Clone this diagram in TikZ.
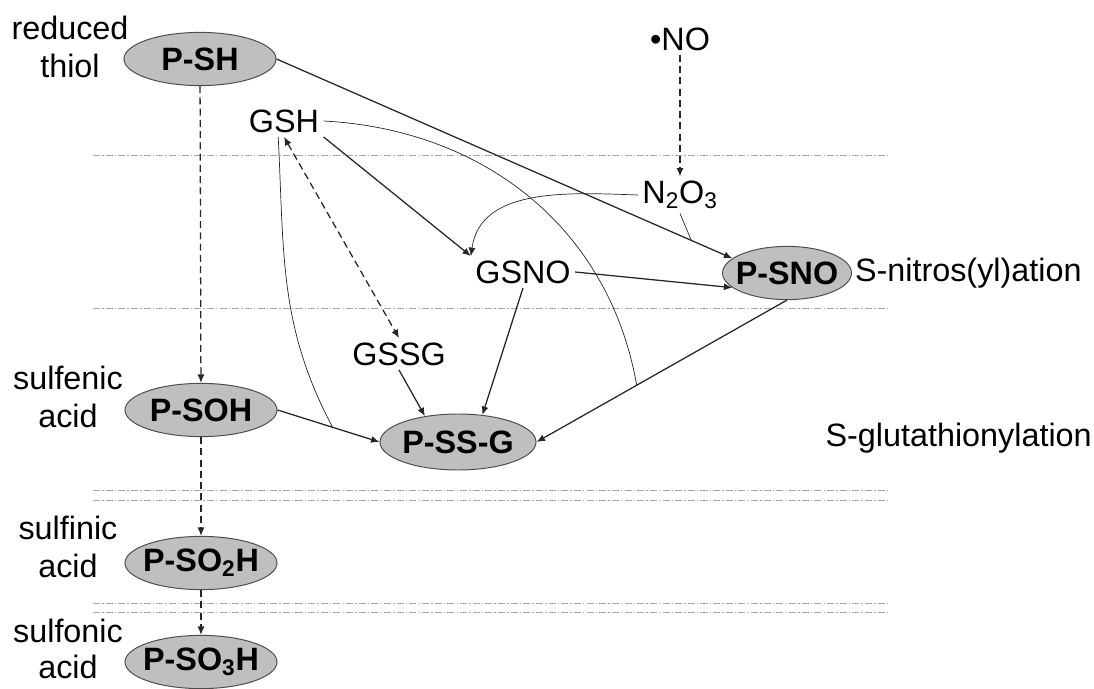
\documentclass[tikz,border=0pt]{standalone}
\usepackage{fontspec}
\setmainfont{Liberation Sans}
\usetikzlibrary{shapes.geometric,arrows.meta}
\newcommand{\diagfont}{\fontsize{23}{27}\selectfont}
\tikzset{prot/.style={ellipse,draw=black!70,fill=black!25,line width=0.7pt,inner xsep=-4pt,inner ysep=0pt,minimum width=3.8cm,minimum height=1.33cm,font=\diagfont\bfseries},
	mol/.style={inner sep=3pt},
	state label/.style={align=center},
	react/.style={-{Latex[length=6pt,width=5pt]},line width=0.9pt,black!85},
	oxid/.style={react,dash pattern=on 5pt off 3pt},
	assist/.style={line width=0.5pt,black!85},
	layer/.style={black!35,line width=0.6pt,dash pattern=on 5pt off 1.5pt on 1pt off 1.5pt}}

\begin{document}
\begin{tikzpicture}[x=0.025cm,y=0.025cm,font=\diagfont]
	\useasboundingbox (0,0) rectangle (1094,-689);
	% compartments
	\draw[layer] (93,-155) -- (890,-155);
	\draw[layer] (93,-308) -- (890,-308);
	\draw[layer] (93,-490) -- (890,-490);
	\draw[layer] (93,-500) -- (890,-500);
	\draw[layer] (93,-603) -- (890,-603);
	\draw[layer] (93,-612) -- (890,-612);
	% protein states
	\node[prot] (psh) at (200,-59) {P-SH};
	\node[prot] (psoh) at (201,-410) {P-SOH};
	\node[prot] (pso2h) at (201,-563) {P-SO\textsubscript{2}H};
	\node[prot] (pso3h) at (201,-662) {P-SO\textsubscript{3}H};
	\node[prot,minimum width=3.9cm,minimum height=1.4cm] (pssg) at (458,-442) {P-SS-G};
	\node[prot,minimum width=3.0cm] (psno) at (787,-273) {P-SNO};
	% small molecules
	\node[mol] (gsh) at (284,-121) {GSH};
	\node[mol] (gsno) at (523,-272) {GSNO};
	\node[mol] (gssg) at (399,-354) {GSSG};
	\node[mol] (no) at (680,-39) {•NO};
	\node[mol] (n2o3) at (680,-195) {N\textsubscript{2}O\textsubscript{3}};
	% labels
	\node[state label] (lsh) at (70,-47) {reduced\\thiol};
	\node[state label] (lsoh) at (68,-397) {sulfenic\\acid};
	\node[state label] (lso2h) at (68,-547) {sulfinic\\acid};
	\node[state label,font=\fontsize{23}{26}\selectfont] (lso3h) at (68,-649) {sulfonic\\acid};
	\node[anchor=west,inner sep=2pt] (lsno) at (psno.east) {S-nitros(yl)ation};
	\node[anchor=east,inner sep=0pt] (lssg) at (1092,-438) {S-glutathionylation};
	% oxidation
	\draw[oxid] (psh) -- (psoh);
	\draw[oxid] (psoh) -- (pso2h);
	\draw[oxid] (pso2h) -- (pso3h);
	\draw[oxid] (no) -- (n2o3);
	\draw[oxid,{Latex[length=6pt,width=5pt]}-{Latex[length=6pt,width=5pt]}] (gsh.south) -- (gssg.north);
	% nitrosylation and glutathionylation
	\draw[react] (psh.east) -- coordinate[pos=0.91] (jsno) (psno.165);
	\draw[assist] (n2o3.south) -- (jsno);
	\draw[react] (gsh.south east) -- (gsno.north west);
	\draw[assist,-{Latex[length=6pt,width=5pt]}] (n2o3.west) to[out=178,in=82] (gsno.north west);
	\draw[react] (gsno.east) -- (psno.195);
	\draw[react] (gsno.south) -- (pssg.48);
	\draw[react] (gssg.south) -- (pssg.142);
	\draw[react] (psoh.east) -- coordinate[pos=0.54] (jsoh) (pssg.west);
	\draw[react] (psno.south) -- coordinate[pos=0.6] (jssg) (pssg.east);
	\draw[assist] (gsh.250) to[out=-87,in=118] (jsoh);
	\draw[assist] (gsh.east) to[out=-3,in=100] (jssg);
\end{tikzpicture}
\end{document}
